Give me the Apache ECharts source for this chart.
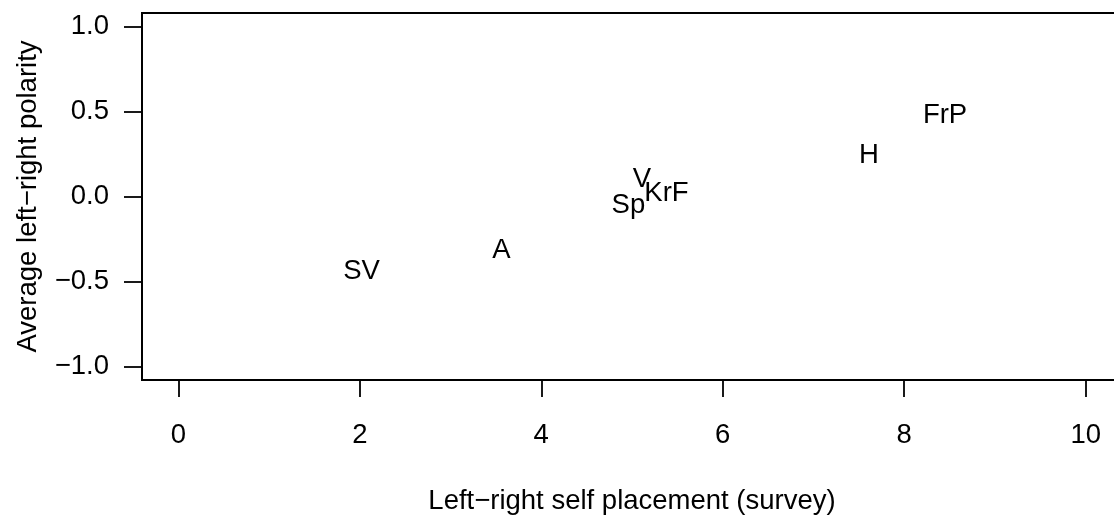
<!DOCTYPE html>
<html>
<head>
<meta charset="utf-8">
<script src="https://cdn.jsdelivr.net/npm/echarts@6/dist/echarts.min.js"></script>
<style>
  html, body { margin: 0; padding: 0; background: #fff; }
  #polarityChart { width: 1114px; height: 518px; }
</style>
</head>
<body>
<div id="polarityChart"></div>
<script>
// party labels and their positions (self placement vs. polarity)
var parties = ["SV", "A", "Sp", "V", "KrF", "H", "FrP"];
var selfPlacement = [2.02, 3.56, 4.96, 5.11, 5.38, 7.61, 8.45];
var polarity = [-0.44, -0.32, -0.05, 0.10, 0.02, 0.24, 0.48];
var xTicks = [0, 2, 4, 6, 8, 10];
var yTicks = [-1, -0.5, 0, 0.5, 1];

var fontName = "Liberation Sans, Arial, Helvetica, sans-serif";
var fs = 27.5;
var minus = function (v, digits) {
  var s = Math.abs(v).toFixed(digits);
  return v < 0 ? "\u2212" + s : s;
};

var points = parties.map(function (p, i) {
  return [selfPlacement[i], polarity[i], p];
});

var chart = echarts.init(document.getElementById("polarityChart"));
var option = {
  animation: false,
  backgroundColor: "#ffffff",
  grid: {
    show: true,
    left: 142,
    top: 13,
    width: 980,
    height: 367,
    outerBoundsMode: "none",
    containLabel: false,
    borderColor: "#000",
    borderWidth: 2,
    backgroundColor: "transparent"
  },
  xAxis: {
    type: "value",
    min: -0.4,
    max: 10.4,
    name: "Left\u2212right self placement (survey)",
    nameLocation: "middle",
    nameGap: 107,
    nameTextStyle: { color: "#000", fontSize: fs, fontFamily: fontName },
    axisLine: { show: false, onZero: false },
    axisTick: {
      show: true,
      length: 17,
      customValues: xTicks,
      lineStyle: { color: "#000", width: 1.8 }
    },
    axisLabel: {
      customValues: xTicks,
      margin: 41,
      color: "#000",
      fontSize: fs,
      fontFamily: fontName,
      formatter: function (v) { return minus(v, 0); }
    },
    splitLine: { show: false }
  },
  yAxis: {
    type: "value",
    min: -1.08,
    max: 1.08,
    name: "Average left\u2212right polarity",
    nameLocation: "middle",
    nameGap: 100,
    nameTextStyle: { color: "#000", fontSize: fs, fontFamily: fontName },
    axisLine: { show: false, onZero: false },
    axisTick: {
      show: true,
      length: 18,
      customValues: yTicks,
      lineStyle: { color: "#000", width: 1.8 }
    },
    axisLabel: {
      customValues: yTicks,
      margin: 33,
      color: "#000",
      fontSize: fs,
      fontFamily: fontName,
      padding: [6, 0, 0, 0],
      formatter: function (v) { return minus(v, 1); }
    },
    splitLine: { show: false }
  },
  series: [
    {
      type: "scatter",
      data: points,
      symbolSize: 1,
      itemStyle: { color: "#fff", opacity: 1 },
      label: {
        show: true,
        position: "inside",
        padding: [4, 0, 0, 0],
        color: "#000",
        opacity: 1,
        textBorderWidth: 0,
        fontSize: fs,
        fontFamily: fontName,
        formatter: function (p) { return p.data[2]; }
      },
      labelLayout: { hideOverlap: false },
      emphasis: { disabled: true }
    }
  ]
};
chart.setOption(option);
</script>
</body>
</html>
